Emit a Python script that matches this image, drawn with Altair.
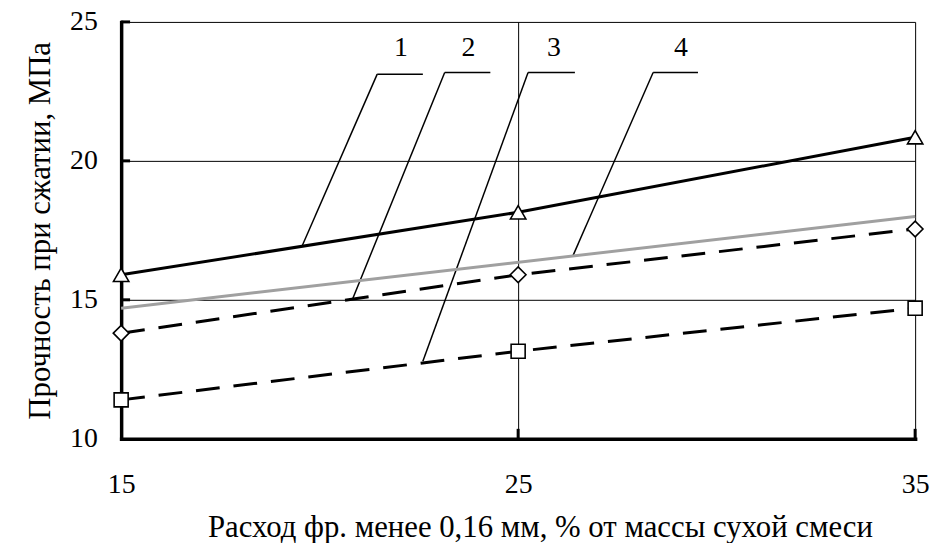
import altair as alt
import pandas as pd

# ---- data ----
x_vals = [15, 25, 35]
s1 = [15.9, 18.15, 20.85]   # curve 1, triangles, solid
s2 = [13.8, 15.9, 17.55]    # curve 2, diamonds, dashed
s3 = [11.4, 13.15, 14.7]    # curve 3, squares, dashed
x4 = [15, 35]
s4 = [14.7, 18.0]           # curve 4, grey line

x_ticks = [15, 25, 35]
y_ticks = [10, 15, 20, 25]
y_inner_ticks = [15, 20, 25]
x_inner_ticks = [25, 35]

lbl_names = ["1", "2", "3", "4"]
lbl_x = [22.05, 23.75, 25.9, 29.1]
lbl_y = [24.05, 24.05, 24.05, 24.05]
und_x1 = [21.45, 23.15, 25.25, 28.4]
und_x2 = [22.6, 24.3, 26.43, 29.53]
und_y = [23.12, 23.18, 23.18, 23.18]
lead_x2 = [19.55, 20.83, 22.6, 26.37]
lead_y2 = [16.91, 15.03, 12.79, 16.55]

FONT = "Liberation Serif"

xs = alt.Scale(domain=[15, 35], nice=False, zero=False)
ys = alt.Scale(domain=[10, 25], nice=False, zero=False)

x_axis = alt.Axis(
    values=x_ticks, title="Расход фр. менее 0,16 мм, % от массы сухой смеси",
    grid=True, gridColor="black", gridWidth=1, gridOpacity=1,
    domainColor="black", domainWidth=3.5, domainCap="square",
    ticks=False, tickSize=0,
    labelFont=FONT, labelFontSize=28, labelColor="black", labelPadding=46,
    labelBaseline="middle", labelFlush=False, labelOverlap=False,
    titleFont=FONT, titleFontSize=31, titleFontWeight="normal", titleColor="black",
    titleX=422, titleY=98, titleBaseline="alphabetic", titleAlign="center",
)
y_axis = alt.Axis(
    values=y_ticks, title="Прочность при сжатии, МПа",
    grid=True, gridColor="black", gridWidth=1, gridOpacity=1,
    domainColor="black", domainWidth=3.5, domainCap="square",
    ticks=False, tickSize=0,
    labelFont=FONT, labelFontSize=28, labelColor="black", labelPadding=24,
    labelBaseline="middle", labelFlush=False, labelOverlap=False,
    titleFont=FONT, titleFontSize=31, titleFontWeight="normal", titleColor="black",
    titleX=-81, titleY=210, titleAngle=270, titleBaseline="middle", titleAlign="center",
)


def X(f):
    return alt.X(f, type="quantitative", scale=xs, axis=x_axis)


def Y(f):
    return alt.Y(f, type="quantitative", scale=ys, axis=y_axis)


d1 = pd.DataFrame({"x": x_vals, "y": s1})
d2 = pd.DataFrame({"x": x_vals, "y": s2})
d3 = pd.DataFrame({"x": x_vals, "y": s3})
d4 = pd.DataFrame({"x": x4, "y": s4})
lab = pd.DataFrame({"name": lbl_names, "x": lbl_x, "y": lbl_y})
und = pd.DataFrame({"x": und_x1, "x2": und_x2, "y": und_y})
lead = pd.DataFrame({"x": und_x1, "y": und_y, "x2": lead_x2, "y2": lead_y2})
yt = pd.DataFrame({"y": y_inner_ticks})
xt = pd.DataFrame({"x": x_inner_ticks})

H = 420
layers = []

# inward ticks
layers.append(
    alt.Chart(yt).mark_rule(color="black", strokeWidth=3).encode(
        y=Y("y"), x=alt.value(0), x2=alt.value(9)
    )
)
layers.append(
    alt.Chart(xt).mark_rule(color="black", strokeWidth=3).encode(
        x=X("x"), y=alt.value(H), y2=alt.value(H - 10)
    )
)

# leader lines and underlines
layers.append(
    alt.Chart(und).mark_rule(color="black", strokeWidth=1.5).encode(
        x=X("x"), x2="x2", y=Y("y")
    )
)
layers.append(
    alt.Chart(lead).mark_rule(color="black", strokeWidth=1.5).encode(
        x=X("x"), y=Y("y"), x2="x2", y2="y2"
    )
)
layers.append(
    alt.Chart(lab).mark_text(font=FONT, fontSize=28, color="black",
                             baseline="middle", align="center").encode(
        x=X("x"), y=Y("y"), text="name:N"
    )
)

# series lines
layers.append(
    alt.Chart(d4).mark_line(color="#a0a0a0", strokeWidth=3).encode(x=X("x"), y=Y("y"))
)
layers.append(
    alt.Chart(d1).mark_line(color="black", strokeWidth=3).encode(x=X("x"), y=Y("y"))
)
layers.append(
    alt.Chart(d2).mark_line(color="black", strokeWidth=3, strokeDash=[24, 14]).encode(
        x=X("x"), y=Y("y"))
)
layers.append(
    alt.Chart(d3).mark_line(color="black", strokeWidth=3, strokeDash=[24, 14]).encode(
        x=X("x"), y=Y("y"))
)

# markers
for df, shp, sz in [(d1, "triangle-up", 240), (d2, "diamond", 250), (d3, "square", 200)]:
    layers.append(
        alt.Chart(df).mark_point(shape=shp, size=sz, filled=True, fill="white",
                                 stroke="black", strokeWidth=1.6, opacity=1).encode(
            x=X("x"), y=Y("y"))
    )

chart = alt.layer(*layers).properties(
    width=800, height=H,
    autosize=alt.AutoSizeParams(type="none"),
    padding={"left": 114, "top": 12, "right": 18, "bottom": 103},
).configure_view(strokeWidth=0)

chart.save("out.html", embed_options={"renderer": "svg", "actions": False})
